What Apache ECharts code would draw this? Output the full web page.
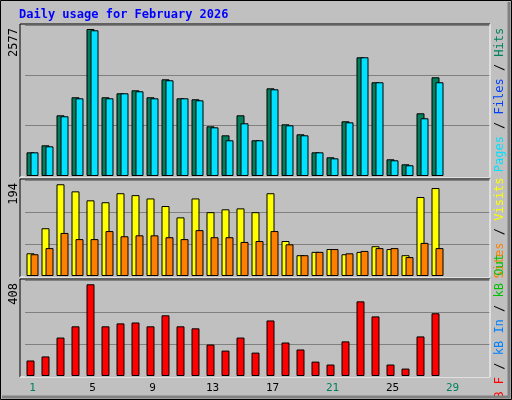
<!DOCTYPE html>
<html><head><meta charset="utf-8">
<script src="https://cdn.jsdelivr.net/npm/echarts@6/dist/echarts.min.js"></script>
<style>html,body{margin:0;padding:0;background:#c0c0c0}#c{width:512px;height:400px}</style>
</head><body><div id="c"></div>
<script>
const days = Array.from({length:31},(_,i)=>String(i+1));
const weekend = ['1','7','8','14','15','21','22','28','29'];
const hits  = [415,538,1064,1380,2577,1380,1450,1502,1380,1695,1362,1345,871,713,1064,626,1537,906,731,415,328,959,2081,1643,293,205,1099,1730];
const files = [415,520,1047,1362,2554,1362,1450,1485,1362,1678,1362,1327,853,626,924,626,1520,888,713,415,310,941,2081,1643,275,188,1012,1643];
const visits= [48,101,194,179,160,156,175,171,164,148,124,164,135,141,143,135,175,74,44,51,57,46,51,63,57,44,167,186];
const sites = [46,59,91,78,78,95,84,86,86,82,78,97,82,82,72,74,95,67,44,51,57,48,53,59,59,40,70,59];
const kbytes= [69,87,171,221,408,221,234,238,221,270,221,212,140,113,171,104,247,149,118,64,51,154,332,265,51,33,176,279];
const maxLabels = ['2577','194','408'];
const axisMax = [2647,203,427];

const chart = echarts.init(document.getElementById('c'));
const F = 'DejaVu Sans Mono';
const panels = [[25,151],[180,96],[280,96]];
const grids = panels.map(p=>({left:25,right:22,top:p[0],height:p[1]}));
const xAxes = panels.map((p,i)=>({type:'category',gridIndex:i,data:days,
  axisLine:{show:false},axisTick:{show:false},
  axisLabel:{show:i===2,margin:7,fontFamily:F,fontSize:11,
    formatter:v=>weekend.includes(v)?'{w|'+v+'}':'{b|'+v+'}',
    rich:{w:{color:'#00805c',fontFamily:F,fontSize:11},b:{color:'#000',fontFamily:F,fontSize:11}}}}));
const yAxes = panels.map((p,i)=>({type:'value',gridIndex:i,min:0,max:axisMax[i],interval:axisMax[i]/3,
  axisLabel:{show:false},axisLine:{show:false},axisTick:{show:false},
  splitLine:{lineStyle:{color:'#808080',width:1}}}));
const bs = (name,data,color,g,extra)=>Object.assign({type:'bar',name,data,xAxisIndex:g,yAxisIndex:g,
  barWidth:8,barGap:'-50%',itemStyle:{color,borderColor:'#000',borderWidth:1},animation:false},extra||{});
const series = [
  bs('Hits',hits,'#00805c',0), bs('Files',files,'#00e0ff',0),
  bs('Visits',visits,'#ffff00',1), bs('Sites',sites,'#ff8000',1),
  bs('kB F',kbytes,'#ff0000',2), bs('pad',[],'#ff0000',2)
];
const g = [];
panels.forEach((p,i)=>{
  const t=p[0]-1,b=p[0]+p[1]+1;
  g.push({type:'polyline',shape:{points:[[20,b],[20,t],[490,t]]},style:{stroke:'#000',lineWidth:1,fill:null},z:10});
  g.push({type:'polyline',shape:{points:[[490,t],[490,b],[20,b]]},style:{stroke:'#fff',lineWidth:1,fill:null},z:10});
  g.push({type:'text',x:8,y:t+4,rotation:Math.PI/2,style:{text:maxLabels[i],font:'12px '+F,fill:'#000',align:'right',verticalAlign:'top'}});
});
const leg=(y,parts)=>({type:'text',x:494,y:y,rotation:Math.PI/2,
  style:{text:parts.map((p,k)=>'{s'+k+'|'+p[0]+'}').join(''),font:'12px '+F,align:'center',verticalAlign:'top',
  rich:Object.fromEntries(parts.map((p,k)=>['s'+k,{fill:p[1],font:'12px '+F}]))}});
g.push(leg(100,[['Pages','#00e0ff'],[' / ','#000'],['Files','#0040ff'],[' / ','#000'],['Hits','#00805c']]));
g.push(leg(228,[['kB Out','#00c000'],[' / ','#000'],['Sites','#ff8000'],[' / ','#000'],['Visits','#ffff00']].slice(2)));
g.push(leg(330,[['kB F','#ff0000'],[' / ','#000'],['kB In','#0080ff'],[' / ','#000'],['kB Out','#00c000']]));
g.push({type:'rect',shape:{x:0.5,y:0.5,width:511,height:399},style:{fill:null,stroke:'#000'},z:20});
g.push({type:'polyline',shape:{points:[[2,397],[509,397],[509,2]]},style:{stroke:'#808080',lineWidth:3,fill:null},z:19});
g.push({type:'text',x:19,y:9,style:{text:'Daily usage for February 2026',font:'bold 12px '+F,fill:'#0000ff'}});
chart.setOption({backgroundColor:'#c0c0c0',animation:false,grid:grids,xAxis:xAxes,yAxis:yAxes,series,graphic:g});
</script></body></html>
